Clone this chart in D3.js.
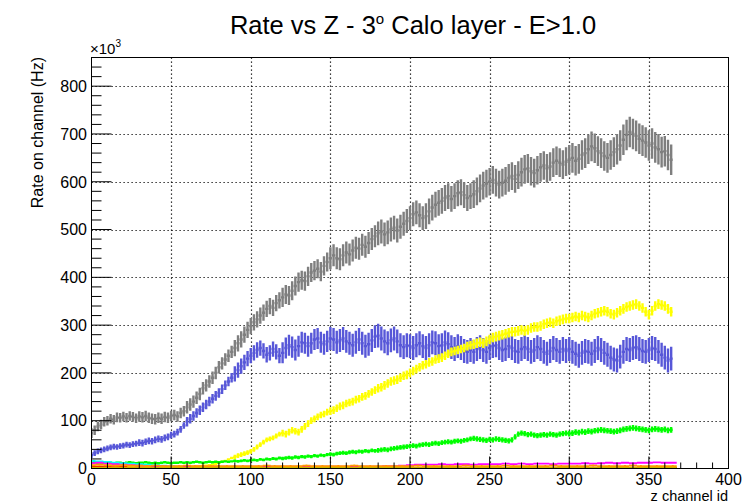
<!DOCTYPE html>
<html>
<head>
<meta charset="utf-8">
<script src="https://cdn.jsdelivr.net/npm/d3@7"></script>
<style>
  body { margin: 0; background: #fff; }
  svg { display: block; font-family: "Liberation Sans", Arial, Helvetica, sans-serif; }
</style>
</head>
<body>
<div id="chart"></div>
<script>
// channels of the 4 main curves (one point every 2 channels)
var fineChannels = d3.range(0, 365, 2);
// channels of the small curves near zero (one point every 5 channels)
var coarseChannels = d3.range(0, 366, 5);

// rates in units of 1e3 Hz
var grayRate = [
  74, 80, 88, 92, 98, 100, 104, 102, 107, 106,
  109, 106, 110, 108, 105, 109, 107, 110, 106, 104,
  103, 106, 104, 108, 106, 110, 112, 109, 116, 120,
  128, 134, 140, 148, 156, 168, 174, 182, 190, 200,
  212, 220, 228, 236, 244, 252, 262, 270, 280, 290,
  298, 306, 312, 320, 326, 334, 340, 336, 346, 352,
  358, 364, 362, 372, 382, 390, 394, 392, 402, 410,
  414, 418, 412, 424, 432, 440, 446, 440, 438, 446,
  452, 448, 456, 462, 460, 468, 464, 472, 480, 486,
  492, 496, 490, 494, 500, 504, 498, 506, 512, 518,
  524, 532, 536, 530, 524, 528, 538, 546, 552, 556,
  560, 566, 570, 564, 570, 576, 578, 572, 566, 570,
  574, 580, 586, 592, 596, 600, 604, 598, 594, 598,
  602, 608, 612, 606, 614, 620, 626, 628, 622, 618,
  624, 630, 634, 628, 632, 640, 644, 640, 636, 642,
  646, 650, 644, 648, 656, 660, 668, 674, 670, 664,
  660, 654, 650, 656, 662, 668, 676, 688, 698, 704,
  700, 696, 690, 686, 682, 676, 680, 672, 668, 662,
  664, 656, 646
];
var blueRate = [
  28, 32, 36, 38, 40, 42, 44, 46, 45, 47,
  48, 50, 49, 51, 52, 54, 53, 56, 58, 57,
  60, 62, 61, 64, 66, 70, 72, 76, 82, 90,
  98, 104, 110, 116, 122, 128, 134, 140, 146, 152,
  158, 166, 174, 182, 190, 198, 206, 214, 222, 230,
  236, 242, 248, 252, 246, 238, 242, 250, 244, 236,
  242, 252, 258, 254, 248, 256, 264, 262, 256, 262,
  270, 272, 264, 260, 266, 272, 270, 264, 268, 272,
  266, 262, 258, 264, 270, 262, 256, 260, 268, 276,
  278, 272, 266, 262, 268, 272, 266, 258, 254, 258,
  256, 252, 258, 262, 256, 252, 258, 264, 262, 256,
  258, 264, 260, 254, 250, 256, 252, 246, 244, 248,
  244, 250, 254, 248, 244, 252, 256, 258, 252, 248,
  250, 256, 252, 246, 244, 250, 254, 250, 244, 248,
  254, 250, 244, 240, 246, 252, 248, 244, 250, 246,
  250, 244, 240, 236, 242, 246, 244, 240, 246, 252,
  248, 242, 238, 232, 228, 226, 234, 244, 250, 248,
  252, 254, 250, 246, 244, 248, 252, 250, 244, 238,
  232, 226, 230
];
var yellowRate = [
  4, 4, 3, 4, 3, 4, 3, 3, 4, 3,
  3, 4, 3, 3, 4, 3, 3, 4, 3, 3,
  3, 3, 4, 3, 3, 3, 4, 3, 3, 4,
  3, 4, 4, 5, 5, 6, 6, 7, 8, 10,
  12, 14, 16, 19, 22, 24, 27, 29, 31, 33,
  36, 40, 45, 50, 55, 60, 62, 64, 68, 72,
  74, 72, 76, 80, 78, 76, 82, 88, 94, 100,
  104, 108, 112, 114, 118, 120, 122, 126, 130, 132,
  136, 138, 140, 144, 146, 150, 152, 156, 160, 164,
  168, 170, 174, 178, 182, 184, 186, 190, 194, 196,
  200, 204, 208, 212, 216, 218, 222, 224, 228, 230,
  232, 236, 240, 244, 246, 248, 250, 252, 256, 258,
  260, 262, 264, 262, 266, 270, 274, 276, 278, 280,
  282, 284, 286, 286, 288, 290, 288, 290, 294, 296,
  296, 298, 302, 304, 306, 304, 308, 310, 312, 314,
  314, 316, 318, 316, 320, 318, 316, 320, 324, 326,
  328, 330, 328, 324, 322, 326, 330, 334, 338, 340,
  342, 344, 340, 336, 328, 322, 330, 340, 344, 342,
  340, 334, 328
];
var greenRate = [
  12, 13, 12, 11, 12, 13, 12, 11, 12, 12,
  11, 12, 13, 12, 11, 12, 12, 13, 12, 11,
  12, 11, 12, 13, 12, 11, 12, 12, 13, 12,
  13, 12, 13, 14, 13, 12, 13, 14, 13, 14,
  13, 14, 15, 14, 15, 16, 15, 16, 17, 16,
  17, 18, 17, 19, 18, 20, 19, 21, 20, 22,
  21, 22, 23, 22, 24, 23, 25, 24, 26, 25,
  27, 26, 28, 27, 29, 30, 29, 31, 32, 33,
  32, 34, 35, 34, 36, 35, 37, 36, 38, 37,
  38, 39, 40, 39, 41, 42, 43, 44, 45, 46,
  47, 48, 47, 49, 50, 51, 50, 52, 53, 52,
  54, 55, 56, 55, 57, 58, 57, 59, 60, 62,
  63, 62, 61, 60, 59, 61, 60, 62, 61, 60,
  59, 58, 60, 66, 72, 74, 73, 71, 72, 70,
  69, 70, 71, 70, 72, 71, 70, 72, 73, 74,
  73, 74, 76, 75, 77, 76, 78, 77, 79, 80,
  81, 80, 79, 78, 77, 78, 80, 82, 83, 84,
  85, 84, 83, 82, 81, 80, 82, 83, 82, 81,
  82, 80, 81
];
var cyanRate = [
  16, 15, 14, 12, 11, 10, 9, 8, 7, 6, 5, 4, 4, 3, 3, 3, 2, 2, 2, 2,
  2, 2, 2, 1.5, 1.5, 1.5, 1.5, 1.5, 1.5, 1.5, 1.5, 1.5, 1.5, 1.5, 1.5, 1.5, 1, 1, 1, 1,
  1, 1, 1, 1, 1, 1, 1, 1, 1, 1, 1, 1, 1, 1, 1, 1, 1, 1, 1, 1,
  1, 1, 1, 1, 1, 1, 1, 1, 1, 1, 1, 1, 1, 1
];
var magentaRate = [
  11, 12, 10, 9, 8, 7, 6, 5, 5, 5, 4, 4, 4, 4, 4, 4, 4, 4, 4, 4,
  4, 4, 4, 4, 4, 4, 4, 4, 4, 4, 4, 4, 4, 4, 4, 4, 4, 5, 5, 6,
  7, 8, 8, 8, 9, 8, 9, 9, 8, 9, 9, 9, 10, 9, 10, 9, 10, 10, 9, 10,
  10, 10, 11, 10, 11, 12, 11, 12, 11, 12, 12, 13, 12, 12
];
var redRate = [
  4, 4, 3, 3, 3, 2, 2, 2, 2, 2, 2, 2, 2, 2, 2, 2, 2, 2, 2, 2,
  2, 2, 2, 2, 2, 2, 2, 2, 2, 2, 2, 2, 2, 2, 2, 2, 2, 2, 2, 2,
  2, 2, 2, 2, 2, 2, 2, 2, 2, 2, 2, 2, 2, 2, 2, 2, 2, 2, 2, 2,
  2, 2, 2, 2, 2, 2, 2, 2, 2, 2, 2, 2, 2, 2
];
var oliveRate = [
  2, 2, 1.5, 1.5, 1.5, 1.5, 1, 1, 1, 1, 1, 1, 1, 1, 1, 1, 1, 1, 1, 1,
  1, 1, 1, 1, 1, 1, 1, 1, 1, 1, 1, 1, 1, 1, 1, 1, 1, 1, 1, 1,
  1, 1, 1, 1, 1, 1, 1, 1, 1, 1, 1, 1, 1, 1, 1, 1, 1, 1, 1, 1,
  1, 1, 1, 1, 1, 1, 1, 1, 1, 1, 1, 1, 1, 1
];
var orangeRate = [
  7, 8, 7, 6, 7, 6, 6, 5, 6, 5, 5, 5, 6, 5, 5, 5, 5, 5, 5, 5,
  5, 5, 6, 5, 5, 5, 5, 6, 5, 5, 5, 5, 5, 6, 5, 5, 5, 5, 5, 5,
  5, 6, 5, 5, 5, 5, 5, 6, 5, 5, 5, 5, 6, 5, 5, 5, 5, 5, 6, 5,
  5, 5, 5, 6, 5, 5, 5, 5, 6, 5, 5, 5, 5, 5
];

// error half-widths per block of 30 channels
var grayErr = [10, 11, 13, 17, 20, 23, 25, 27, 29, 30, 31, 32, 32];
var blueErr = [6, 7, 10, 16, 22, 24, 25, 25, 25, 25, 25, 25, 25];
var yellowErr = [1, 1, 2, 5, 7, 8, 9, 9, 10, 10, 10, 10, 10];
var greenErr = [2, 2, 2.5, 3, 3.5, 4, 5, 5, 5.5, 5.5, 6, 6, 6];
var smallErr = [1.5, 1.5, 1.5, 1.5, 1.5, 1.5, 1.5, 1.5, 1.5, 1.5, 1.5, 1.5, 1.5];
var orangeErr = [2.5, 2.5, 2.5, 2.5, 2.5, 2.5, 2.5, 2.5, 2.5, 2.5, 2.5, 2.5, 2.5];

var xTicks = [0, 50, 100, 150, 200, 250, 300, 350, 400];
var yTicks = [0, 100, 200, 300, 400, 500, 600, 700, 800];

var series = [
  {ch: fineChannels, rate: grayRate, err: grayErr, step: 2, color: "#7f7f7f"},
  {ch: fineChannels, rate: blueRate, err: blueErr, step: 2, color: "#5757d8"},
  {ch: fineChannels, rate: yellowRate, err: yellowErr, step: 2, color: "#ffff00"},
  {ch: fineChannels, rate: greenRate, err: greenErr, step: 2, color: "#00ff00"},
  {ch: coarseChannels, rate: cyanRate, err: smallErr, step: 5, color: "#00ffff"},
  {ch: coarseChannels, rate: magentaRate, err: smallErr, step: 5, color: "#ff00ff"},
  {ch: coarseChannels, rate: redRate, err: smallErr, step: 5, color: "#ff0000"},
  {ch: coarseChannels, rate: oliveRate, err: smallErr, step: 5, color: "#c8b400"},
  {ch: coarseChannels, rate: orangeRate, err: orangeErr, step: 5, color: "#ff9900"}
];

var W = 744, H = 504;
var frame = {left: 91.5, right: 728.5, top: 57.5, bottom: 468.5};

var svg = d3.select("#chart").append("svg")
    .attr("width", W)
    .attr("height", H);

var x = d3.scaleLinear().domain([0, 400]).range([frame.left, frame.right]);
var y = d3.scaleLinear().domain([0, 860]).range([frame.bottom, frame.top]);

// dotted grid
var grid = svg.append("g").attr("stroke", "#000").attr("stroke-width", 1.2)
    .attr("stroke-dasharray", "1.2,2.8");
grid.selectAll(".gx").data(xTicks.slice(1, -1)).enter().append("line")
    .attr("x1", function(d) { return Math.round(x(d)) + 0.5; })
    .attr("x2", function(d) { return Math.round(x(d)) + 0.5; })
    .attr("y1", frame.top).attr("y2", frame.bottom);
grid.selectAll(".gy").data(yTicks.slice(1)).enter().append("line")
    .attr("y1", function(d) { return Math.round(y(d)) + 0.5; })
    .attr("y2", function(d) { return Math.round(y(d)) + 0.5; })
    .attr("x1", frame.left).attr("x2", frame.right);

svg.append("clipPath").attr("id", "clip").append("rect")
    .attr("x", frame.left).attr("y", frame.top)
    .attr("width", frame.right - frame.left).attr("height", frame.bottom - frame.top);

// error bars: vertical bar + horizontal bin width
var plot = svg.append("g").attr("clip-path", "url(#clip)");
series.forEach(function(s) {
  var p = d3.path();
  s.ch.forEach(function(c, i) {
    var v = s.rate[i], e = s.err[Math.floor(c / 30)];
    p.moveTo(x(c), y(v - e));
    p.lineTo(x(c), y(v + e));
    p.moveTo(x(c - s.step / 2), y(v));
    p.lineTo(x(c + s.step / 2), y(v));
  });
  plot.append("path")
      .attr("d", p.toString())
      .attr("fill", "none")
      .attr("stroke", s.color)
      .attr("stroke-width", s.step === 2 ? 2.4 : 1.8);
});

// frame
svg.append("rect")
    .attr("x", frame.left).attr("y", frame.top)
    .attr("width", frame.right - frame.left).attr("height", frame.bottom - frame.top)
    .attr("fill", "none").attr("stroke", "#000").attr("stroke-width", 1);

// ticks, ROOT style (inside the frame)
var xMinor = d3.range(0, 401, 10).filter(function(d) { return d % 50 !== 0; });
var yMinor = d3.range(0, 861, 20).filter(function(d) { return d % 100 !== 0; });
var ticks = svg.append("g").attr("stroke", "#000").attr("stroke-width", 1);
ticks.selectAll(".xt").data(xTicks).enter().append("line")
    .attr("x1", function(d) { return x(d); }).attr("x2", function(d) { return x(d); })
    .attr("y1", frame.bottom).attr("y2", frame.bottom - 12);
ticks.selectAll(".xm").data(xMinor).enter().append("line")
    .attr("x1", function(d) { return x(d); }).attr("x2", function(d) { return x(d); })
    .attr("y1", frame.bottom).attr("y2", frame.bottom - 6);
ticks.selectAll(".yt").data(yTicks).enter().append("line")
    .attr("y1", function(d) { return y(d); }).attr("y2", function(d) { return y(d); })
    .attr("x1", frame.left).attr("x2", frame.left + 20);
ticks.selectAll(".ym").data(yMinor).enter().append("line")
    .attr("y1", function(d) { return y(d); }).attr("y2", function(d) { return y(d); })
    .attr("x1", frame.left).attr("x2", frame.left + 10);

// tick labels
svg.selectAll(".xl").data(xTicks).enter().append("text")
    .attr("x", function(d) { return x(d); })
    .attr("y", 484.5)
    .attr("text-anchor", "middle")
    .attr("font-size", 16)
    .text(function(d) { return d; });
svg.selectAll(".yl").data(yTicks).enter().append("text")
    .attr("x", 87)
    .attr("y", function(d) { return y(d); })
    .attr("dy", "0.36em")
    .attr("text-anchor", "end")
    .attr("font-size", 16)
    .text(function(d) { return d; });

// exponent
var ex = svg.append("text").attr("x", 90).attr("y", 54).attr("font-size", 15);
ex.append("tspan").text("\u00d710");
ex.append("tspan").attr("dy", -7).attr("font-size", 10).text("3");

// titles
var title = svg.append("text")
    .attr("x", 413).attr("y", 34)
    .attr("text-anchor", "middle")
    .attr("font-size", 25.5);
title.append("tspan").text("Rate vs Z - 3");
title.append("tspan").attr("dy", -10).attr("font-size", 15).text("o");
title.append("tspan").attr("dy", 10).text(" Calo layer - E>1.0");

svg.append("text")
    .attr("x", 728).attr("y", 500.8)
    .attr("text-anchor", "end")
    .attr("font-size", 14.5)
    .text("z channel id");

svg.append("text")
    .attr("transform", "translate(43,57) rotate(-90)")
    .attr("text-anchor", "end")
    .attr("font-size", 16)
    .text("Rate on channel (Hz)");
</script>
</body>
</html>
